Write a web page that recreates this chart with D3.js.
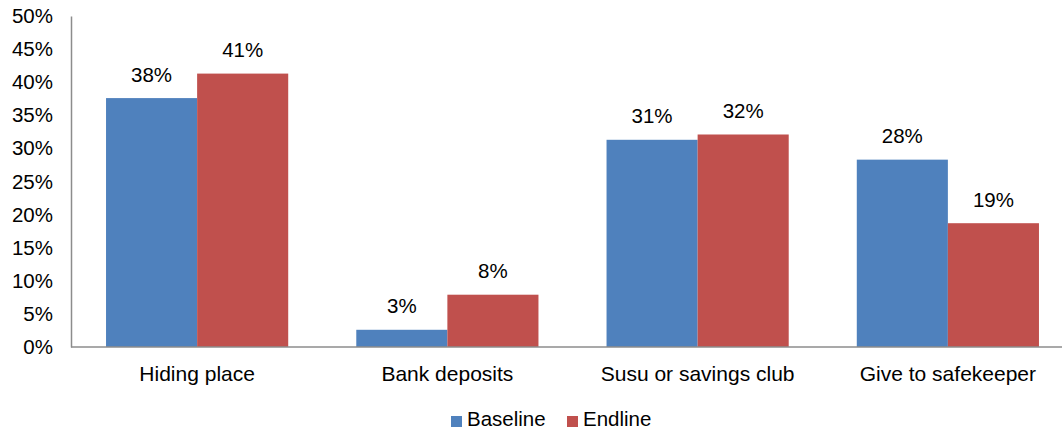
<!DOCTYPE html>
<html><head><meta charset="utf-8">
<script src="https://cdn.jsdelivr.net/npm/d3@7"></script>
<style>body{margin:0;background:#fff}svg{display:block;font-family:"Liberation Sans",Arial,sans-serif}</style>
</head><body><svg id="c" width="1062" height="432"></svg>
<script>
const categories = ["Hiding place","Bank deposits","Susu or savings club","Give to safekeeper"];
const seriesNames = ["Baseline","Endline"];
const baseline = [37.6, 2.6, 31.3, 28.3];
const endline = [41.3, 7.9, 32.1, 18.7];
const yTicks = [0,5,10,15,20,25,30,35,40,45,50];
const colors = ["#4F81BD","#C0504D"];

const svg = d3.select("#c");
const x = d3.scaleBand().domain(categories).range([72,1073]).paddingInner(0.272).paddingOuter(0.136);
const xs = d3.scaleBand().domain(seriesNames).range([0, x.bandwidth()]);
const y = d3.scaleLinear().domain([0,50]).range([347,16]);

// y axis
const ya = svg.append("g").attr("transform","translate(71,0)")
  .call(d3.axisLeft(y).tickValues(yTicks).tickSize(0).tickPadding(18).tickFormat(d=>d+"%"));
ya.select(".domain").attr("stroke","#8c8c8c").attr("stroke-width",1.5);
ya.selectAll("text").attr("font-size",20.5).attr("fill","#000").attr("font-family","Liberation Sans, Arial, sans-serif");

const data = categories.map((c,i)=>({c, vals:[baseline[i], endline[i]]}));
const g = svg.append("g").selectAll("g").data(data).join("g")
  .attr("transform", d=>`translate(${x(d.c)},0)`);
g.selectAll("rect").data(d=>d.vals.map((v,j)=>({v,j}))).join("rect")
  .attr("x", d=>xs(seriesNames[d.j])).attr("width", xs.bandwidth())
  .attr("y", d=>y(d.v)).attr("height", d=>y(0)-y(d.v))
  .attr("fill", d=>colors[d.j]);
g.selectAll("text").data(d=>d.vals.map((v,j)=>({v,j}))).join("text")
  .attr("x", d=>xs(seriesNames[d.j])+xs.bandwidth()/2)
  .attr("y", d=>y(d.v)-16.5)
  .attr("text-anchor","middle").attr("font-size",20.5).attr("fill","#000")
  .text(d=>Math.round(d.v)+"%");

// x axis
const xa = svg.append("g").attr("transform","translate(0,347)")
  .call(d3.axisBottom(x).tickSize(0).tickPadding(19));
xa.select(".domain").attr("d","M71,0H1062").attr("stroke","#8c8c8c").attr("stroke-width",1.5);
xa.selectAll("text").attr("font-size",21).attr("fill","#000").attr("font-family","Liberation Sans, Arial, sans-serif");

// legend
const lg = svg.append("g");
const lx = [451, 567];
seriesNames.forEach((s,i)=>{
  lg.append("rect").attr("x",lx[i]).attr("y",416).attr("width",11).attr("height",11).attr("fill",colors[i]);
  lg.append("text").attr("x",lx[i]+16).attr("y",426).attr("font-size",20.5).attr("fill","#000").text(s);
});
</script></body></html>
